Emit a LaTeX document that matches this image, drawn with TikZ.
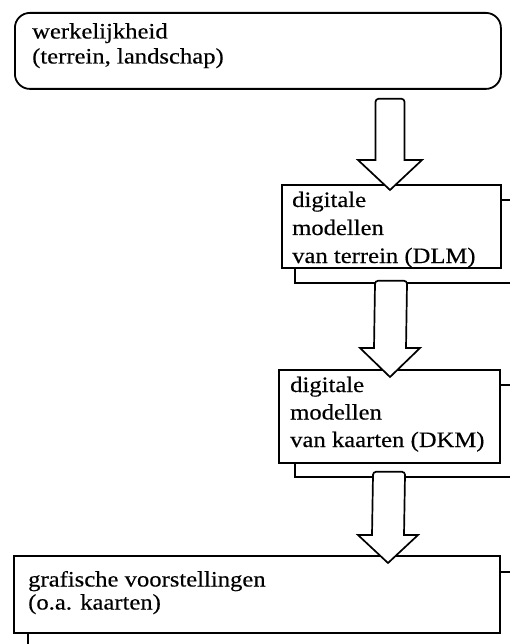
\documentclass[tikz,border=0pt]{standalone}
\usepackage{fontspec}
\setmainfont[FakeStretch=1.12, FakeBold=0.35]{Liberation Serif}
\usetikzlibrary{calc}

\tikzset{
  frame/.style={draw=black, line width=1.8pt, fill=white, inner sep=0pt},
  stackline/.style={draw=black, line width=1.6pt, fill=white},
  caption/.style={anchor=base west, inner sep=0pt},
  blockarrow/.style={draw=black, line width=1.7pt, fill=white, line join=miter}
}

% text block whose reference point is the baseline of its first line
% #1 = line distance, #2 = lines separated by \\
\newcommand{\textlines}[2]{%
  \fontsize{22}{#1}\selectfont
  \begin{tabular}[t]{@{}l@{}}#2\end{tabular}}

% hollow block arrow: #1 = start of the shaft, #2 = tip,
% #3 = half shaft width, #4 = half head width, #5 = head length
% (the upper corners of the shaft are slightly rounded)
\newcommand{\hollowarrow}[5]{%
  \draw[blockarrow]
    ($(#1)+(-#3,3)$) to[out=90,in=180] ($(#1)+(-#3+3,0)$)
    -- ($(#1)+(#3-3,0)$) to[out=0,in=90] ($(#1)+(#3,3)$)
    -- ($(#2)+(#3,-#5)$) -- ($(#2)+(#4,-#5)$) -- (#2)
    -- ($(#2)+(-#4,-#5)$) -- ($(#2)+(-#3,-#5)$) -- cycle;}

\begin{document}
\begin{tikzpicture}[x=1pt, y=-1pt]
  \useasboundingbox (0,0) rectangle (510,644);
  \clip (0,0) rectangle (510,644);

  % reality
  \node[frame, rounded corners=15pt, minimum width=486pt, minimum height=76pt,
        anchor=north west] (real) at (14,12) {};
  \node[caption] (realtxt) at (32,38.5)
    {\textlines{25}{werkelijkheid\\(terrein, landschap)}};

  % digital landscape models, with the stacked sheet behind
  \path[stackline] (295,200) rectangle (530,283);
  \node[frame, minimum width=219pt, minimum height=83pt,
        anchor=north west] (dlm) at (281,184) {};
  \node[caption] (dlmtxt) at (292,207)
    {\textlines{28}{digitale\\modellen\\van terrein (DLM)}};

  % digital cartographic models
  \path[stackline] (295,385) rectangle (530,477);
  \node[frame, minimum width=221pt, minimum height=93pt,
        anchor=north west] (dkm) at (278,369) {};
  \node[caption] (dkmtxt) at (290,392)
    {\textlines{27.5}{digitale\\modellen\\van kaarten (DKM)}};

  % graphic representations
  \path[stackline] (28,572) rectangle (530,660);
  \node[frame, minimum width=486pt, minimum height=77pt,
        anchor=north west] (graf) at (13,555) {};
  \node[caption] (graftxt) at (28,586.5)
    {\textlines{23}{grafische voorstellingen\\(o.a. kaarten)}};

  % arrows between the levels
  \coordinate (a1s) at ($(real.south west)+(376,9)$);
  \coordinate (a1t) at ($(dlm.north west)+(109,6)$);
  \hollowarrow{a1s}{a1t}{14.5}{32}{30}

  \coordinate (a2s) at ($(dlm.south west)+(110,12)$);
  \coordinate (a2t) at ($(dkm.north west)+(112,8)$);
  \hollowarrow{a2s}{a2t}{16}{30}{29}

  \coordinate (a3s) at ($(dkm.south west)+(111,8)$);
  \coordinate (a3t) at ($(graf.north west)+(375,8)$);
  \hollowarrow{a3s}{a3t}{16}{30}{28}
\end{tikzpicture}
\end{document}
